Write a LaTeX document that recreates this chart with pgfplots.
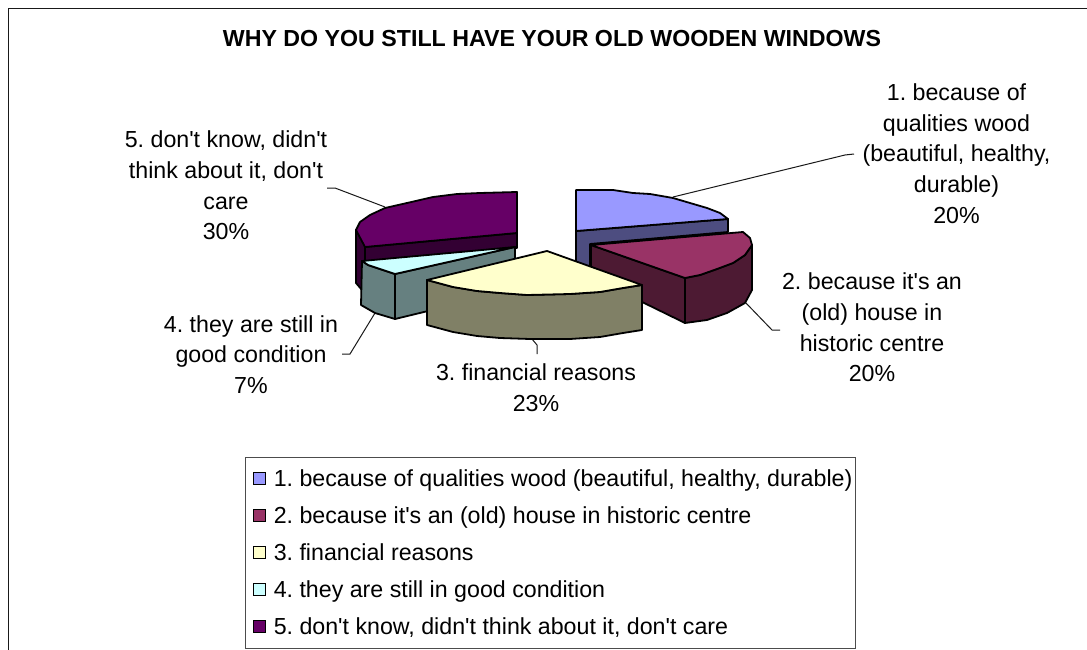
\documentclass[border=0pt]{standalone}
\usepackage{pgfplots}
\pgfplotsset{compat=1.18}
\usepackage{fontspec}
\setmainfont{Liberation Sans}[Ligatures=TeXOff]
\frenchspacing
\definecolor{topA}{HTML}{9999FF}\definecolor{wallA}{HTML}{4D4D80}
\definecolor{topB}{HTML}{993366}\definecolor{wallB}{HTML}{4D1A33}
\definecolor{topC}{HTML}{FFFFCC}\definecolor{wallC}{HTML}{808066}
\definecolor{topD}{HTML}{CCFFFF}\definecolor{wallD}{HTML}{668080}
\definecolor{topE}{HTML}{660066}\definecolor{wallE}{HTML}{330033}
\begin{document}
\begin{tikzpicture}[x=1pt,y=1pt]
\path[use as bounding box] (0,0) rectangle (1087,650);
\begin{axis}[
  at={(0,0)},anchor=south west,scale only axis,width=1087pt,height=650pt,
  xmin=0,xmax=1087,ymin=0,ymax=650,y dir=reverse,hide axis,clip=false,
  legend style={at={(axis cs:245,457)},anchor=north west,draw=black!70,line width=1.3pt,
    fill=white,inner xsep=1pt,inner ysep=10pt,
    font=\fontsize{23.2}{27}\selectfont,row sep=14.8pt,
    /tikz/every odd column/.append style={column sep=5.5pt}},
  legend cell align=left,
  legend image code/.code={\path[draw=none,fill=none] (0pt,0pt) -- (7pt,0pt);\draw[#1,draw=black,line width=1.2pt] (7pt,-5.5pt) rectangle (19pt,6.5pt);},
  every axis plot/.append style={forget plot},
  pie/.style={draw=black,line width=1.8pt,line join=round},
  leader/.style={draw=black!90,line width=1pt,no marks},
]
% frame
\addplot[draw=black!90,line width=1.4pt] coordinates {(8.5,650)(8.5,8.5)(1087,8.5)};
% leader lines
\addplot[leader] coordinates {(673,197)(845,155)(854,154)};
\addplot[leader] coordinates {(745,302)(772,330)(780,330)};
\addplot[leader] coordinates {(532,339)(537,345)(537,354)};
\addplot[leader] coordinates {(375,313)(350,354)(342,354)};
\addplot[leader] coordinates {(385,207)(335,188)(327,188)};
% slice 5 walls
\addplot[pie,fill=wallE] coordinates {(356,230)(356,283)(362,290)(366,262)(366,247)} --cycle;
\addplot[pie,fill=wallE] coordinates {(517,233)(517,248)(365,262)(365,247)} --cycle;
\addplot[pie,fill=topE] coordinates {(517,192)(480,193)(457,194)(433,197)(407,203)(385,208)(370,215)(360,222)(356,230)(365,247)(517,233)} --cycle;
% slice 4
\addplot[pie,fill=wallD] coordinates {(395,274)(515,247)(515,258)(515,290)(395,319)} --cycle;
\addplot[pie,fill=wallD] coordinates {(362,261)(368,265)(377,268)(395,274)(395,319)(375,313)(361,305)} --cycle;
\addplot[pie,fill=topD] coordinates {(362,261)(515,247)(395,274)(377,268)(368,265)} --cycle;
% slice 1
\addplot[pie,fill=wallA] coordinates {(576,231)(728,219)(728,232)(590,244)(590,270)(576,262)} --cycle;
\addplot[pie,fill=topA] coordinates {(576,190)(613,190)(633,193)(650,194)(673,198)(690,203)(707,208)(720,213)(728,219)(576,231)} --cycle;
% slice 2
\addplot[pie,fill=wallB] coordinates {(591,245)(685,278)(685,323)(591,277)} --cycle;
\addplot[pie,fill=wallB] coordinates {(685,278)(700,275)(717,269)(733,263)(745,255)(752,245)(752,290)(745,303)(727,313)(707,320)(685,323)} --cycle;
\addplot[pie,fill=topB] coordinates {(591,245)(743,232)(750,238)(752,245)(745,255)(733,263)(717,269)(700,275)(685,278)} --cycle;
% slice 3
\addplot[pie,fill=wallC] coordinates {(427,280)(453,287)(477,291)(500,293)(527,295)(570,294)(600,292)(623,288)(642,285)(642,330)(623,333)(600,337)(570,339)(530,339)(500,338)(477,336)(453,332)(427,325)} --cycle;
\addplot[pie,fill=topC] coordinates {(547,251)(642,285)(623,288)(600,292)(570,294)(527,295)(500,293)(477,291)(453,287)(427,280)} --cycle;
% legend
\addlegendimage{fill=topA}\addlegendentry{1. because of qualities wood (beautiful, healthy, durable)}
\addlegendimage{fill=topB}\addlegendentry{2. because it's an (old) house in historic centre}
\addlegendimage{fill=topC}\addlegendentry{3. financial reasons}
\addlegendimage{fill=topD}\addlegendentry{4. they are still in good condition}
\addlegendimage{fill=topE}\addlegendentry{5. don't know, didn't think about it, don't care}
% text
\node[font=\fontsize{23.2}{27}\bfseries] at (axis cs:552,39) {WHY DO YOU STILL HAVE YOUR OLD WOODEN WINDOWS};
\node[font=\fontsize{23.2}{30.7}\selectfont,align=center] at (axis cs:956.5,153.5) {1. because of\\qualities wood\\(beautiful, healthy,\\durable)\\20\%};
\node[font=\fontsize{23.2}{30.7}\selectfont,align=center] at (axis cs:872,327.5) {2. because it's an\\(old) house in\\historic centre\\20\%};
\node[font=\fontsize{23.2}{30.7}\selectfont,align=center] at (axis cs:536,387.5) {3. financial reasons\\23\%};
\node[font=\fontsize{23.2}{30.7}\selectfont,align=center] at (axis cs:251,354.5) {4. they are still in\\good condition\\7\%};
\node[font=\fontsize{23.2}{30.7}\selectfont,align=center] at (axis cs:226,185.5) {5. don't know, didn't\\think about it, don't\\care\\30\%};
\end{axis}
\end{tikzpicture}
\end{document}
